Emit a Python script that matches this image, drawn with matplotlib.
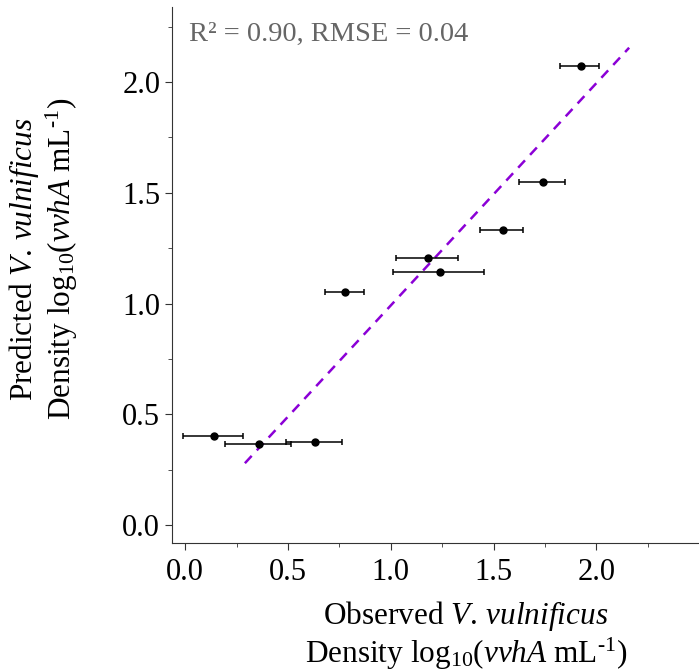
import matplotlib
matplotlib.use("Agg")
from matplotlib import pyplot as plt
import numpy as np

# observed vs predicted densities (log10 vvhA / mL)
observed = [0.14, 0.36, 0.63, 0.775, 1.18, 1.24, 1.545, 1.74, 1.925]
predicted = [0.403, 0.366, 0.377, 1.052, 1.208, 1.144, 1.334, 1.548, 2.071]
obs_low = [-0.01, 0.195, 0.49, 0.68, 1.025, 1.01, 1.435, 1.625, 1.825]
obs_high = [0.28, 0.515, 0.765, 0.87, 1.325, 1.455, 1.645, 1.85, 2.015]

# fitted line end points
fit_x = [0.29, 2.16]
fit_y = [0.28, 2.155]

r2_text = "R\u00b2 = 0.90, RMSE = 0.04"

plt.rcParams['font.family'] = ['Liberation Serif', 'DejaVu Serif']
plt.rcParams['mathtext.fontset'] = 'custom'
plt.rcParams['mathtext.rm'] = 'Liberation Serif'
plt.rcParams['mathtext.it'] = 'Liberation Serif:italic'

fig = plt.figure(figsize=(6.99, 6.72), dpi=100)
ax = fig.add_axes([0.246, 0.192, 0.754, 0.798])

xerr = [np.array(observed) - np.array(obs_low), np.array(obs_high) - np.array(observed)]
ax.errorbar(observed, predicted, xerr=xerr, fmt='o', color='black', ms=5,
            ecolor='black', elinewidth=1.1, capsize=2.5, capthick=1.1, zorder=3)
ax.plot(fit_x, fit_y, linestyle=(0, (4, 3)), color='#8B00D6', lw=1.8, zorder=2)

ax.set_xlim(-0.065, 2.5)
ax.set_ylim(-0.08, 2.34)
ax.set_xticks([0.0, 0.5, 1.0, 1.5, 2.0])
ax.set_yticks([0.0, 0.5, 1.0, 1.5, 2.0])
ax.set_xticks(np.arange(0.25, 2.5, 0.5), minor=True)
ax.set_yticks(np.arange(0.25, 2.5, 0.5), minor=True)
ax.xaxis.set_major_formatter(matplotlib.ticker.FormatStrFormatter('%.1f'))
ax.yaxis.set_major_formatter(matplotlib.ticker.FormatStrFormatter('%.1f'))
ax.tick_params(which='both', direction='out', labelsize=22, color='#333333')
ax.tick_params(which='major', length=5)
ax.tick_params(which='minor', length=3)
ax.tick_params(axis='x', pad=6)

for s in ['top', 'right']:
    ax.spines[s].set_visible(False)
for s in ['left', 'bottom']:
    ax.spines[s].set_color('#333333')

label_tail = "Density log$_{10}$($\\mathit{vvhA}$ mL$^{\\text{-1}}$)"
ax.set_xlabel("Observed $\\mathit{V.\\,vulnificus}$\n" + label_tail,
              fontsize=22.5, linespacing=1.1)
ax.set_ylabel("Predicted $\\mathit{V.\\,vulnificus}$\n" + label_tail,
              fontsize=22.5, linespacing=1.1)
ax.xaxis.set_label_coords(0.558, -0.105)
ax.yaxis.set_label_coords(-0.175, 0.53)

ax.text(0.032, 0.972, r2_text, transform=ax.transAxes, fontsize=20.5,
        color='#666666', va='top', ha='left')

plt.savefig("out.png", dpi=100)
